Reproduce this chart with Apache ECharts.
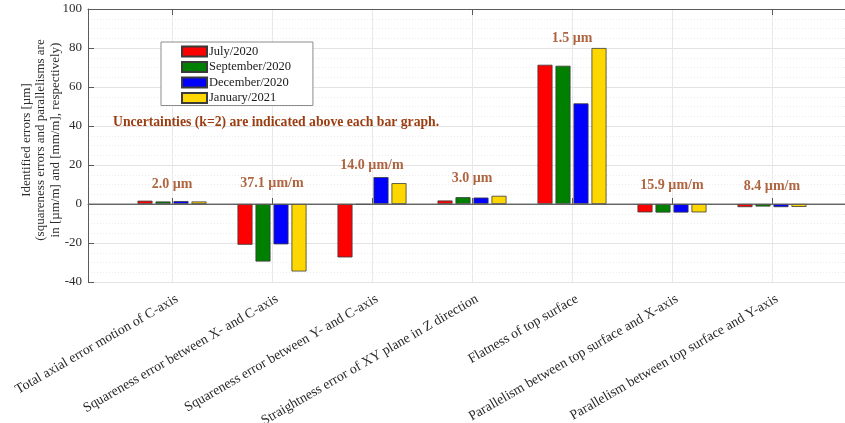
<!DOCTYPE html>
<html>
<head>
<meta charset="utf-8">
<script src="https://cdn.jsdelivr.net/npm/echarts@6/dist/echarts.min.js"></script>
<style>
  html, body { margin: 0; padding: 0; background: #ffffff; }
  #chart { width: 845px; height: 423px; }
</style>
</head>
<body>
<div id="chart"></div>
<script>
// Error categories along the x-axis
const categories = [
  'Total axial error motion of C-axis',
  'Squareness error between X- and C-axis',
  'Squareness error between Y- and C-axis',
  'Straightness error of XY plane in Z direction',
  'Flatness of top surface',
  'Parallelism between top surface and X-axis',
  'Parallelism between top surface and Y-axis'
];

// Identified errors for each measurement campaign
const july2020 = [1.7, -20.9, -27.4, 1.8, 71.4, -4.3, -1.6];
const september2020 = [1.3, -29.5, -0.4, 3.5, 70.9, -4.4, -1.3];
const december2020 = [1.5, -20.7, 13.8, 3.3, 51.6, -4.4, -1.6];
const january2021 = [1.3, -34.6, 10.7, 4.2, 80.0, -4.3, -1.5];

// Expanded uncertainties (k=2) and the height where each is written
const uncertaintyText = ['2.0 µm', '37.1 µm/m', '14.0 µm/m', '3.0 µm', '1.5 µm', '15.9 µm/m', '8.4 µm/m'];
const uncertaintyY = [9.9, 10.4, 19.8, 13.0, 85.0, 9.5, 9.0];

// Value axis ticks
const yMin = -40, yMax = 100, yStep = 20;

const seriesDefs = [
  { name: 'July/2020', data: july2020, color: '#ff0000' },
  { name: 'September/2020', data: september2020, color: '#008000' },
  { name: 'December/2020', data: december2020, color: '#0000ff' },
  { name: 'January/2021', data: january2021, color: '#ffd700' }
];

const serif = '"Liberation Serif", "Times New Roman", serif';
const brown = '#9b3d10';
const axisColor = '#5a5a5a';
const textColor = '#2b2b2b';

const chart = echarts.init(document.getElementById('chart'), null, { renderer: 'canvas' });

const barSeries = seriesDefs.map(s => ({
  name: s.name,
  type: 'bar',
  xAxisIndex: 2,
  yAxisIndex: 1,
  data: s.data,
  barWidth: 15,
  barGap: '20%',
  itemStyle: { color: s.color, borderColor: '#3a3a3a', borderWidth: 0.8 },
  emphasis: { disabled: true },
  z: 2
}));

const option = {
  animation: false,
  backgroundColor: '#ffffff',
  textStyle: { fontFamily: serif },
  grid: [
    // frame, value axis and horizontal grid
    { left: 88, top: 9, width: 768, height: 273, containLabel: false, outerBoundsMode: 'none' },
    // category band for the grouped bars
    { left: 122, top: 9, width: 700, height: 273, containLabel: false, outerBoundsMode: 'none' }
  ],
  legend: {
    orient: 'vertical',
    left: 161,
    top: 42,
    data: seriesDefs.map(s => s.name),
    icon: 'rect',
    itemWidth: 25,
    itemHeight: 10,
    itemGap: 2.5,
    padding: [3, 22, 1, 20],
    borderColor: '#8c8c8c',
    borderWidth: 1,
    backgroundColor: '#ffffff',
    textStyle: { fontFamily: serif, fontSize: 12.5, lineHeight: 12, color: '#1a1a1a',
      padding: [0, 0, 0, -3] },
    selectedMode: false
  },
  xAxis: [
    {
      gridIndex: 0, type: 'value', min: 0, max: 1, position: 'bottom',
      axisLine: { show: true, lineStyle: { color: axisColor, width: 1 } },
      axisTick: { show: false }, axisLabel: { show: false }, splitLine: { show: false }
    },
    {
      gridIndex: 0, type: 'value', min: 0, max: 1, position: 'top',
      axisLine: { show: true, lineStyle: { color: axisColor, width: 1 } },
      axisTick: { show: false }, axisLabel: { show: false }, splitLine: { show: false }
    },
    {
      gridIndex: 1, type: 'category', data: categories, position: 'bottom',
      boundaryGap: true,
      axisLine: { show: false },
      axisTick: { show: true, inside: true, length: 6, alignWithLabel: true,
        lineStyle: { color: axisColor } },
      axisLabel: { rotate: 30, interval: 0, fontFamily: serif, fontSize: 13.8,
        color: textColor, margin: 19, padding: [0, -6, 0, 0] },
      splitLine: { show: true, alignWithLabel: true, interval: 0,
        lineStyle: { color: '#e8e8e8', width: 1 } }
    },
    {
      gridIndex: 1, type: 'category', data: categories, position: 'top',
      boundaryGap: true,
      axisLine: { show: false },
      axisTick: { show: true, inside: true, length: 6, alignWithLabel: true,
        lineStyle: { color: axisColor } },
      axisLabel: { show: false },
      splitLine: { show: false }
    }
  ],
  yAxis: [
    {
      gridIndex: 0, type: 'value', min: yMin, max: yMax, interval: yStep,
      axisLine: { show: true, lineStyle: { color: axisColor, width: 1 } },
      axisTick: { show: true, inside: true, length: 6, lineStyle: { color: axisColor } },
      minorTick: { show: false, splitNumber: 4 },
      axisLabel: { fontFamily: serif, fontSize: 13, color: textColor, margin: 6 },
      splitLine: { show: true, lineStyle: { color: '#e3e3e3', width: 1 } },
      minorSplitLine: { show: true, lineStyle: { color: '#ececec', width: 1, type: [1, 2] } }
    },
    {
      gridIndex: 1, type: 'value', min: yMin, max: yMax, interval: yStep,
      show: false, splitLine: { show: false }
    }
  ],
  series: barSeries.concat([
    {
      // bar baseline at zero across the whole plot
      type: 'line',
      xAxisIndex: 0,
      yAxisIndex: 0,
      data: [[0, 0], [1, 0]],
      symbol: 'none',
      lineStyle: { color: '#6e6e6e', width: 1 },
      silent: true,
      z: 3
    },
    {
      // uncertainty annotations above each group
      type: 'scatter',
      xAxisIndex: 2,
      yAxisIndex: 1,
      symbolSize: 0,
      data: uncertaintyY.map((y, i) => [i, y]),
      label: {
        show: true,
        position: 'inside',
        formatter: p => uncertaintyText[p.dataIndex],
        fontFamily: serif,
        fontSize: 14,
        fontWeight: 'bold',
        color: brown
      },
      silent: true,
      z: 4
    }
  ]),
  graphic: [
    {
      type: 'text',
      left: 113,
      top: 115,
      style: {
        text: 'Uncertainties (k=2) are indicated above each bar graph.',
        font: 'bold 13.7px ' + serif,
        fill: brown
      },
      z: 10
    },
    {
      type: 'text',
      x: 41,
      y: 140,
      rotation: Math.PI / 2,
      style: {
        text: 'Identified errors [µm]\n(squareness errors and parallelisms are\nin [µm/m] and [mm/m], respectively)',
        font: '13px ' + serif,
        fill: textColor,
        align: 'center',
        verticalAlign: 'middle',
        lineHeight: 14.5
      }
    }
  ]
};

chart.setOption(option);
</script>
</body>
</html>
